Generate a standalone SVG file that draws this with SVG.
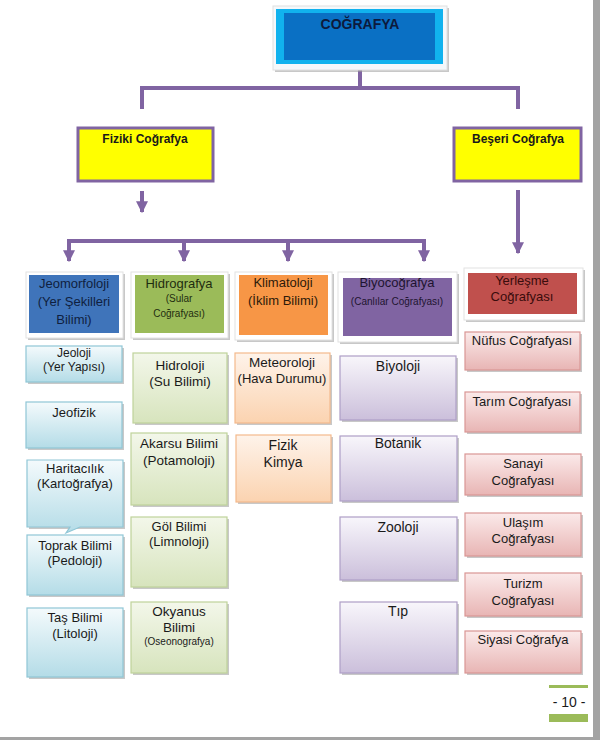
<svg xmlns="http://www.w3.org/2000/svg" width="600" height="740" viewBox="0 0 600 740">
<defs>
<linearGradient id="gBlue" x1="0" y1="0" x2="0" y2="1"><stop offset="0" stop-color="#f4fafc"/><stop offset="1" stop-color="#b4dce7"/></linearGradient>
<linearGradient id="gGreen" x1="0" y1="0" x2="0" y2="1"><stop offset="0" stop-color="#f3f7ea"/><stop offset="1" stop-color="#d7e4bd"/></linearGradient>
<linearGradient id="gOrange" x1="0" y1="0" x2="0" y2="1"><stop offset="0" stop-color="#fef3ea"/><stop offset="1" stop-color="#fbd3b0"/></linearGradient>
<linearGradient id="gPurple" x1="0" y1="0" x2="0" y2="1"><stop offset="0" stop-color="#f8f6fb"/><stop offset="1" stop-color="#cbbfdb"/></linearGradient>
<linearGradient id="gRed" x1="0" y1="0" x2="0" y2="1"><stop offset="0" stop-color="#fbeaea"/><stop offset="1" stop-color="#e8b5b4"/></linearGradient>
<marker id="arr" viewBox="0 0 10 10" refX="9" refY="5" markerWidth="3" markerHeight="3" orient="auto" markerUnits="strokeWidth">
<path d="M0,0 L10,5 L0,10 z" fill="#8064a2"/>
</marker>
</defs>
<style>
.t{font-family:"Liberation Sans",Arial,sans-serif;font-size:13px;fill:#1a1a1a;text-anchor:middle}
.s{font-size:10px}
.b{font-weight:bold;font-size:12px}
.sh{fill:#9a9a9a;opacity:0.55}
.frame{fill:#ffffff;stroke:#e2e2e2;stroke-width:1}
.bl{fill:url(#gBlue);stroke:#8fc6d6;stroke-width:1.2}
.gr{fill:url(#gGreen);stroke:#bfd29a;stroke-width:1.2}
.or{fill:url(#gOrange);stroke:#f4b98c;stroke-width:1.2}
.pu{fill:url(#gPurple);stroke:#ae9ec6;stroke-width:1.2}
.rd{fill:url(#gRed);stroke:#d99694;stroke-width:1.2}
.yl{fill:#ffff00;stroke:#8064a2;stroke-width:3}
.ln{fill:none;stroke:#8064a2;stroke-width:4}
</style>
<rect width="600" height="740" fill="#ffffff"/>
<rect x="593" y="0" width="7" height="740" fill="#a3a3a3"/>
<rect x="0" y="737" width="600" height="3" fill="#a3a3a3"/>

<g id="connectors">
<path class="ln" d="M360,70 V88 M142,88 H518 M142,86 V109 M518,86 V109"/>
<path class="ln" d="M142,191 V212" marker-end="url(#arr)"/>
<path class="ln" d="M67,241 H426"/>
<path class="ln" d="M69,239 V261" marker-end="url(#arr)"/>
<path class="ln" d="M184,239 V261" marker-end="url(#arr)"/>
<path class="ln" d="M288,239 V261" marker-end="url(#arr)"/>
<path class="ln" d="M424,239 V261" marker-end="url(#arr)"/>
<path class="ln" d="M518,190 V253" marker-end="url(#arr)"/>
</g>

<g id="cografya">
<rect x="275" y="8" width="174" height="64" class="sh"/>
<rect x="273" y="6" width="174" height="64" fill="#f4f8fb" stroke="#e0e0e0"/>
<rect x="276" y="9" width="167" height="55" fill="#11b2ee"/>
<rect x="284" y="13" width="151" height="47" fill="#0a70c4"/>
<text class="t b" x="360" y="29" style="fill:#0d1a3c;font-size:14px">COĞRAFYA</text>
</g>

<g id="fiziki">
<rect x="78" y="128" width="135" height="53" class="yl"/>
<text class="t b" x="145" y="143">Fiziki Coğrafya</text>
</g>
<g id="beseri">
<rect x="454" y="128" width="127" height="53" class="yl"/>
<text class="t b" x="518" y="143">Beşeri Coğrafya</text>
</g>

<g id="jeomorfoloji">
<rect x="28" y="274" width="97" height="66" class="sh"/>
<rect x="26" y="272" width="97" height="66" class="frame"/>
<rect x="29" y="275" width="90" height="58" fill="#3f74ba"/>
<text class="t" x="74" y="288" style="fill:#0f1f40">Jeomorfoloji</text>
<text class="t" x="74" y="306" style="fill:#0f1f40">(Yer Şekilleri</text>
<text class="t" x="74" y="324" style="fill:#0f1f40">Bilimi)</text>
</g>
<g id="hidrografya">
<rect x="133" y="274" width="97" height="66" class="sh"/>
<rect x="131" y="272" width="97" height="66" class="frame"/>
<rect x="135" y="275" width="89" height="58" fill="#9bbb59"/>
<text class="t" x="179" y="288" style="fill:#1f2d10">Hidrografya</text>
<text class="t s" x="179" y="302" style="fill:#1f2d10">(Sular</text>
<text class="t s" x="179" y="317" style="fill:#1f2d10">Coğrafyası)</text>
</g>
<g id="klimatoloji">
<rect x="237" y="274" width="97" height="68" class="sh"/>
<rect x="235" y="272" width="97" height="68" class="frame"/>
<rect x="239" y="275" width="89" height="60" fill="#f79646"/>
<text class="t" x="283" y="287" style="fill:#2d1a0a">Klimatoloji</text>
<text class="t" x="283" y="305" style="fill:#2d1a0a">(İklim Bilimi)</text>
</g>
<g id="biyocografya">
<rect x="340" y="274" width="119" height="70" class="sh"/>
<rect x="338" y="272" width="119" height="70" class="frame"/>
<rect x="343" y="278" width="109" height="58" fill="#8064a2"/>
<text class="t" x="397" y="287" style="fill:#1e1430">Biyocoğrafya</text>
<text class="t s" x="397" y="305" style="fill:#1e1430">(Canlılar Coğrafyası)</text>
</g>
<g id="yerlesme">
<rect x="466" y="270" width="119" height="52" class="sh"/>
<rect x="464" y="268" width="119" height="52" class="frame"/>
<rect x="468" y="273" width="109" height="41" fill="#c0504d"/>
<text class="t" x="522" y="285" style="fill:#3a0c0c">Yerleşme</text>
<text class="t" x="522" y="301" style="fill:#3a0c0c">Coğrafyası</text>
</g>

<g id="jeoloji">
<rect x="28" y="348" width="96" height="36" class="sh"/>
<rect x="26" y="346" width="96" height="36" class="bl"/>
<text class="t" x="74" y="357" style="font-size:12px">Jeoloji</text>
<text class="t" x="74" y="371" style="font-size:12px">(Yer Yapısı)</text>
</g>
<g id="jeofizik">
<rect x="28" y="404" width="96" height="46" class="sh"/>
<rect x="26" y="402" width="96" height="46" class="bl"/>
<text class="t" x="74" y="417">Jeofizik</text>
</g>
<g id="haritacilik">
<rect x="29" y="462" width="96" height="67" class="sh"/>
<path d="M27,460 H123 V527 H80 L66,533 L70,527 H27 Z" class="bl"/>
<text class="t" x="75" y="473">Haritacılık</text>
<text class="t" x="75" y="488">(Kartoğrafya)</text>
</g>
<g id="toprak">
<rect x="29" y="537" width="96" height="60" class="sh"/>
<rect x="27" y="535" width="96" height="60" class="bl"/>
<text class="t" x="75" y="550">Toprak Bilimi</text>
<text class="t" x="75" y="565">(Pedoloji)</text>
</g>
<g id="tas">
<rect x="29" y="610" width="96" height="69" class="sh"/>
<rect x="27" y="608" width="96" height="69" class="bl"/>
<text class="t" x="75" y="622">Taş Bilimi</text>
<text class="t" x="75" y="638">(Litoloji)</text>
</g>

<g id="hidroloji">
<rect x="135" y="355" width="94" height="70" class="sh"/>
<rect x="133" y="353" width="94" height="70" class="gr"/>
<text class="t" x="180" y="370" style="font-size:13.5px">Hidroloji</text>
<text class="t" x="180" y="386" style="font-size:13.5px">(Su Bilimi)</text>
</g>
<g id="akarsu">
<rect x="133" y="435" width="96" height="72" class="sh"/>
<rect x="131" y="433" width="96" height="72" class="gr"/>
<text class="t" x="179" y="448" style="font-size:13.5px">Akarsu Bilimi</text>
<text class="t" x="179" y="465" style="font-size:13.5px">(Potamoloji)</text>
</g>
<g id="gol">
<rect x="133" y="519" width="96" height="70" class="sh"/>
<rect x="131" y="517" width="96" height="70" class="gr"/>
<text class="t" x="179" y="531">Göl Bilimi</text>
<text class="t" x="179" y="546">(Limnoloji)</text>
</g>
<g id="okyanus">
<rect x="133" y="604" width="96" height="71" class="sh"/>
<rect x="131" y="602" width="96" height="71" class="gr"/>
<text class="t" x="179" y="616" style="font-size:13.5px">Okyanus</text>
<text class="t" x="179" y="632" style="font-size:13.5px">Bilimi</text>
<text class="t s" x="179" y="645">(Oseonografya)</text>
</g>

<g id="meteoroloji">
<rect x="237" y="355" width="95" height="70" class="sh"/>
<rect x="235" y="353" width="95" height="70" class="or"/>
<text class="t" x="282" y="367" style="font-size:13.5px">Meteoroloji</text>
<text class="t" x="282" y="383">(Hava Durumu)</text>
</g>
<g id="fizikkimya">
<rect x="238" y="437" width="95" height="67" class="sh"/>
<rect x="236" y="435" width="95" height="67" class="or"/>
<text class="t" x="283" y="450" style="font-size:14px">Fizik</text>
<text class="t" x="283" y="467" style="font-size:14px">Kimya</text>
</g>

<g id="biyoloji">
<rect x="342" y="358" width="116" height="64" class="sh"/>
<rect x="340" y="356" width="116" height="64" class="pu"/>
<text class="t" x="398" y="371" style="font-size:14px">Biyoloji</text>
</g>
<g id="botanik">
<rect x="342" y="438" width="117" height="65" class="sh"/>
<rect x="340" y="436" width="117" height="65" class="pu"/>
<text class="t" x="398" y="448" style="font-size:14px">Botanik</text>
</g>
<g id="zooloji">
<rect x="342" y="519" width="117" height="63" class="sh"/>
<rect x="340" y="517" width="117" height="63" class="pu"/>
<text class="t" x="398" y="532" style="font-size:14px">Zooloji</text>
</g>
<g id="tip">
<rect x="342" y="604" width="117" height="71" class="sh"/>
<rect x="340" y="602" width="117" height="71" class="pu"/>
<text class="t" x="398" y="616" style="font-size:14px">Tıp</text>
</g>

<g id="nufus">
<rect x="467" y="334" width="115" height="38" class="sh"/>
<rect x="465" y="332" width="115" height="38" class="rd"/>
<text class="t" x="522" y="345">Nüfus Coğrafyası</text>
</g>
<g id="tarim">
<rect x="467" y="394" width="115" height="40" class="sh"/>
<rect x="465" y="392" width="115" height="40" class="rd"/>
<text class="t" x="522" y="406">Tarım Coğrafyası</text>
</g>
<g id="sanayi">
<rect x="467" y="456" width="116" height="41" class="sh"/>
<rect x="465" y="454" width="116" height="41" class="rd"/>
<text class="t" x="523" y="468">Sanayi</text>
<text class="t" x="523" y="485">Coğrafyası</text>
</g>
<g id="ulasim">
<rect x="467" y="515" width="116" height="43" class="sh"/>
<rect x="465" y="513" width="116" height="43" class="rd"/>
<text class="t" x="523" y="527">Ulaşım</text>
<text class="t" x="523" y="543">Coğrafyası</text>
</g>
<g id="turizm">
<rect x="467" y="575" width="116" height="43" class="sh"/>
<rect x="465" y="573" width="116" height="43" class="rd"/>
<text class="t" x="523" y="588">Turizm</text>
<text class="t" x="523" y="605">Coğrafyası</text>
</g>
<g id="siyasi">
<rect x="467" y="633" width="116" height="42" class="sh"/>
<rect x="465" y="631" width="116" height="42" class="rd"/>
<text class="t" x="523" y="644">Siyasi Coğrafya</text>
</g>

<g id="pagenum">
<rect x="549" y="685" width="39" height="3" fill="#9bbb59"/>
<rect x="549" y="714" width="39" height="8" fill="#9bbb59"/>
<text class="t" x="569" y="707" style="font-size:14px">- 10 -</text>
</g>
</svg>
